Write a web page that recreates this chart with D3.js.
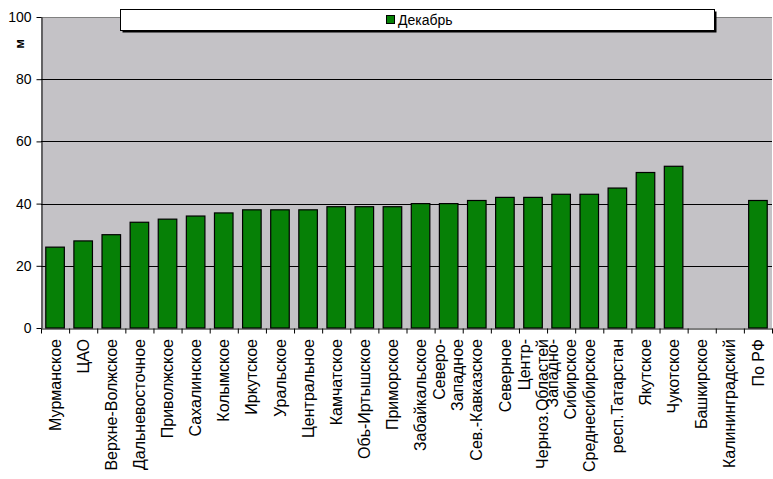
<!DOCTYPE html>
<html lang="ru">
<head>
  <meta charset="UTF-8" />
  <title>Декабрь</title>
  <script src="https://d3js.org/d3.v7.min.js"></script>
  <style>
    body {
      margin: 0;
      background: #ffffff;
      font-family: "Liberation Sans", Arial, sans-serif;
    }
    svg { display: block; }
    .tick text { fill: #000; }
  </style>
</head>
<body>
  <svg width="773" height="479"></svg>

  <script>
    // categories, as they stand under the axis (one entry per line of text)
    const regions = [
      ["Мурманское"], ["ЦАО"], ["Верхне-Волжское"], ["Дальневосточное"],
      ["Приволжское"], ["Сахалинское"], ["Колымское"], ["Иркутское"],
      ["Уральское"], ["Центральное"], ["Камчатское"], ["Обь-Иртышское"],
      ["Приморское"], ["Забайкальское"], ["Северо-", "Западное"],
      ["Сев.-Кавказское"], ["Северное"], ["Центр-", "Черноз.Областей"],
      ["Западно-", "Сибирское"], ["Среднесибирское"], ["респ.Татарстан"],
      ["Якутское"], ["Чукотское"], ["Башкирское"], ["Калининградский"], ["По РФ"]
    ];
    // December values, m (no data for Башкирское, Калининградский)
    const december = [26, 28, 30, 34, 35, 36, 37, 38, 38, 38, 39, 39, 39,
                      40, 40, 41, 42, 42, 43, 43, 45, 50, 52, null, null, 41];
    const yTicks = [0, 20, 40, 60, 80, 100];
    const seriesName = "Декабрь";
    const yTitle = "м";

    const svg = d3.select("svg");
    const plotLeft = 41, plotRight = 772, plotTop = 17, plotBottom = 328;
    const green = "#068006";

    const names = regions.map(r => r.join(" "));
    const x = d3.scaleBand().domain(names).range([plotLeft, plotRight])
      .paddingInner(0.34).paddingOuter(0.17);
    const xEdges = d3.scaleLinear().domain([0, names.length]).range([plotLeft, plotRight]);
    const y = d3.scaleLinear().domain([0, 100]).range([plotBottom, plotTop]);

    // plot area
    svg.append("rect")
      .attr("x", plotLeft).attr("y", plotTop)
      .attr("width", plotRight - plotLeft).attr("height", plotBottom - plotTop)
      .attr("fill", "#c4c2c6");

    // gridlines
    svg.append("g").selectAll("line")
      .data(yTicks.filter(d => d > 0))
      .join("line")
      .attr("x1", plotLeft).attr("x2", plotRight)
      .attr("y1", d => Math.round(y(d)) + 0.5).attr("y2", d => Math.round(y(d)) + 0.5)
      .attr("stroke", d => d === 100 ? "#808080" : "#000")
      .attr("stroke-width", 1);

    // bars
    svg.append("g").selectAll("rect")
      .data(december.map((v, i) => ({ name: names[i], v })).filter(d => d.v != null))
      .join("rect")
      .attr("x", d => x(d.name))
      .attr("y", d => y(d.v))
      .attr("width", x.bandwidth())
      .attr("height", d => y(0) - y(d.v))
      .attr("fill", green)
      .attr("stroke", "#000")
      .attr("stroke-width", 1.2);

    // y axis
    const yAxis = svg.append("g")
      .attr("transform", `translate(${plotLeft + 0.5},0)`)
      .call(d3.axisLeft(y).tickValues(yTicks).tickSize(5).tickPadding(5).tickSizeOuter(0));
    yAxis.select(".domain").attr("stroke", "#000");
    yAxis.selectAll(".tick line").attr("stroke", "#000");
    yAxis.selectAll("text")
      .attr("font-family", "'Liberation Sans', Arial, sans-serif")
      .attr("font-size", 14);

    // x axis: ticks between categories
    const xAxis = svg.append("g")
      .attr("transform", `translate(0,${plotBottom + 0.5})`)
      .call(d3.axisBottom(xEdges).tickValues(d3.range(names.length + 1))
        .tickFormat("").tickSize(5).tickSizeOuter(0));
    xAxis.select(".domain").attr("stroke", "#000");
    xAxis.selectAll(".tick line").attr("stroke", "#000");

    // category labels, rotated
    regions.forEach((lines, i) => {
      const cx = x(names[i]) + x.bandwidth() / 2;
      lines.forEach((line, j) => {
        svg.append("text")
          .attr("transform", `translate(${cx + (j - (lines.length - 1) / 2) * 18},339) rotate(-90)`)
          .attr("text-anchor", "end")
          .attr("dy", "0.35em")
          .attr("font-size", 16)
          .text(line);
      });
    });

    // y axis title
    svg.append("text")
      .attr("transform", "translate(19,44) rotate(-90)")
      .attr("text-anchor", "middle")
      .attr("dy", "0.35em")
      .attr("font-size", 13)
      .attr("font-weight", "bold")
      .text(yTitle);

    // legend
    const legend = svg.append("g");
    legend.append("rect")
      .attr("x", 122.5).attr("y", 11.5).attr("width", 594).attr("height", 21)
      .attr("fill", "#000");
    legend.append("rect")
      .attr("x", 120.5).attr("y", 9.5).attr("width", 594).attr("height", 21)
      .attr("fill", "#fff").attr("stroke", "#000");
    legend.append("rect")
      .attr("x", 386.5).attr("y", 15.5).attr("width", 8).attr("height", 8)
      .attr("fill", green).attr("stroke", "#000");
    legend.append("text")
      .attr("x", 398).attr("y", 25)
      .attr("font-size", 14)
      .text(seriesName);
  </script>
</body>
</html>
